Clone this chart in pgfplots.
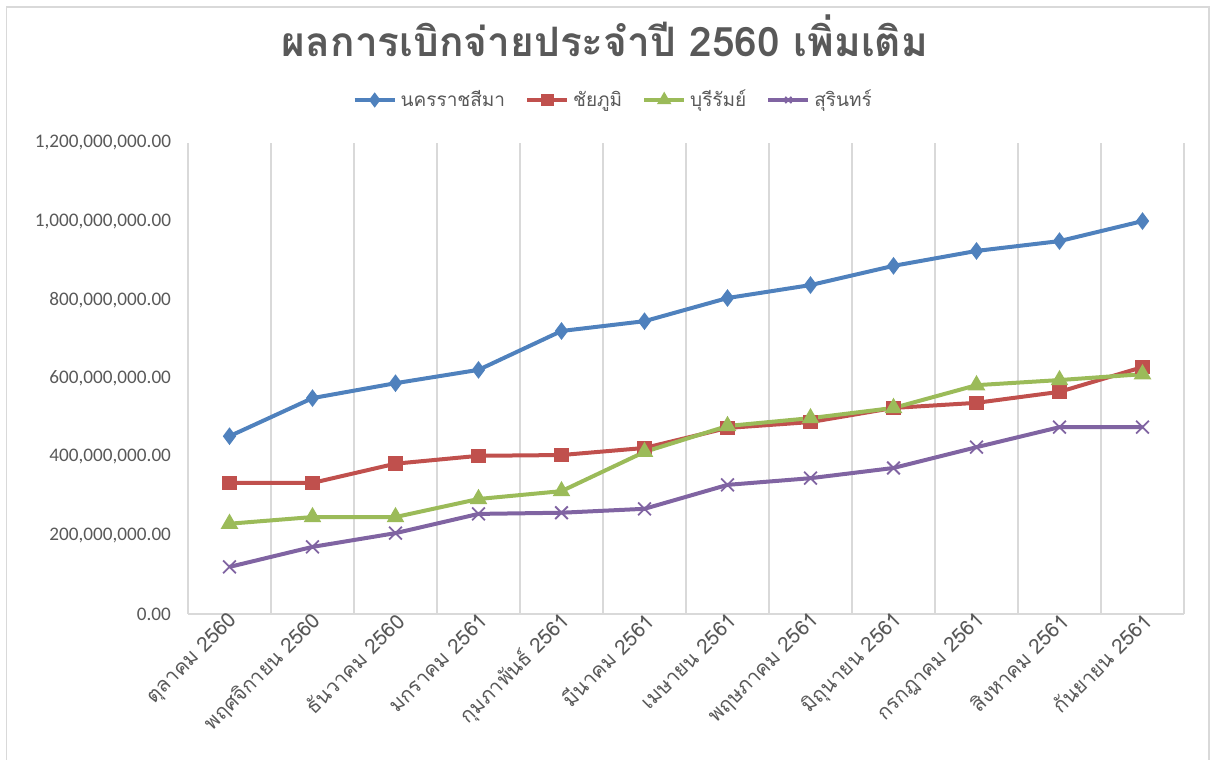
\documentclass[border=0pt]{standalone}
\usepackage{fontspec}
\setmainfont{Carlito}
\newfontfamily\thai[Script=Thai]{Loma}
\usepackage{pgfplots}
\pgfplotsset{compat=1.18}
\definecolor{cblue}{HTML}{4F81BD}
\definecolor{cred}{HTML}{C0504D}
\definecolor{cgreen}{HTML}{9BBB59}
\definecolor{cpurple}{HTML}{8064A2}
\definecolor{ctext}{HTML}{595959}
\definecolor{cgrid}{HTML}{D9D9D9}
\begin{document}
\begin{tikzpicture}
\useasboundingbox (0,0) rectangle (608pt,380pt);
\draw[cgrid, line width=0.8pt] (3.3pt,0pt) -- (3.3pt,376.5pt) -- (604.5pt,376.5pt) -- (604.5pt,0pt);
\begin{axis}[
  at={(94pt,73pt)}, anchor=south west,
  scale only axis, width=498pt, height=235.5pt,
  xmin=-0.5, xmax=11.5, ymin=0, ymax=1200000000,
  axis x line*=bottom, axis y line*=left,
  axis line style={cgrid, line width=0.8pt, -},
  xtick={0,...,11},
  xticklabels={ตุลาคม 2560, พฤศจิกายน 2560, ธันวาคม 2560, มกราคม 2561, กุมภาพันธ์ 2561, มีนาคม 2561, เมษายน 2561, พฤษภาคม 2561, มิถุนายน 2561, กรกฎาคม 2561, สิงหาคม 2561, กันยายน 2561},
  xticklabel style={font=\thai\fontsize{10.3pt}{12pt}\selectfont, text=ctext, rotate=45, anchor=east, xshift=4pt, yshift=-3pt},
  minor xtick={0.5,1.5,...,11.5},
  minor x grid style={cgrid, line width=0.7pt},
  xminorgrids=true,
  major tick length=0pt, minor tick length=0pt,
  ytick={0,200000000,400000000,600000000,800000000,1000000000,1200000000},
  yticklabels={0.00,{200,000,000.00},{400,000,000.00},{600,000,000.00},{800,000,000.00},{1,000,000,000.00},{1,200,000,000.00}},
  yticklabel style={font=\fontsize{9.6pt}{11pt}\selectfont, text=ctext, anchor=east, xshift=-5pt},
  scaled y ticks=false,
  title={\thai\bfseries ผลการเบิกจ่ายประจำปี 2560 เพิ่มเติม},
  title style={at={(0.4187,1.2017)}, anchor=center, font=\fontsize{20.3pt}{22pt}\selectfont, text=ctext},
  legend columns=4,
  legend style={at={(0.428,1.0913)}, anchor=center, draw=none, fill=none, font=\thai\fontsize{9.5pt}{11pt}\selectfont, text=ctext, /tikz/every even column/.append style={column sep=8pt}},
  legend image code/.code={\draw[#1] (0pt,0pt) -- (20pt,0pt); \draw[#1, only marks, mark size=2.2pt] plot coordinates {(10pt,0pt)};},
  every axis plot/.append style={line width=2pt},
]
\addplot[cblue, mark=diamond*, mark size=2.8pt, mark options={solid}] coordinates {
(0,453000000) (1,550000000) (2,588000000) (3,622000000) (4,721000000) (5,746000000)
(6,805000000) (7,838000000) (8,887000000) (9,925000000) (10,950000000) (11,1001000000)};
\addlegendentry{นครราชสีมา}
\addplot[cred, mark=square*, mark size=2.6pt] coordinates {
(0,334000000) (1,334000000) (2,383000000) (3,403000000) (4,405000000) (5,423000000)
(6,474000000) (7,489000000) (8,525000000) (9,538000000) (10,566000000) (11,629000000)};
\addlegendentry{ชัยภูมิ}
\addplot[cgreen, mark=triangle*, mark size=3.1pt] coordinates {
(0,230000000) (1,247000000) (2,247000000) (3,293000000) (4,313000000) (5,413000000)
(6,479000000) (7,499000000) (8,525000000) (9,583000000) (10,596000000) (11,611000000)};
\addlegendentry{บุรีรัมย์}
\addplot[cpurple, mark=x, mark size=4.5pt, mark options={line width=0.9pt}] coordinates {
(0,120000000) (1,171000000) (2,206000000) (3,255000000) (4,258000000) (5,268000000)
(6,329000000) (7,346000000) (8,372000000) (9,425000000) (10,476000000) (11,476000000)};
\addlegendentry{สุรินทร์}
\end{axis}
\end{tikzpicture}
\end{document}
